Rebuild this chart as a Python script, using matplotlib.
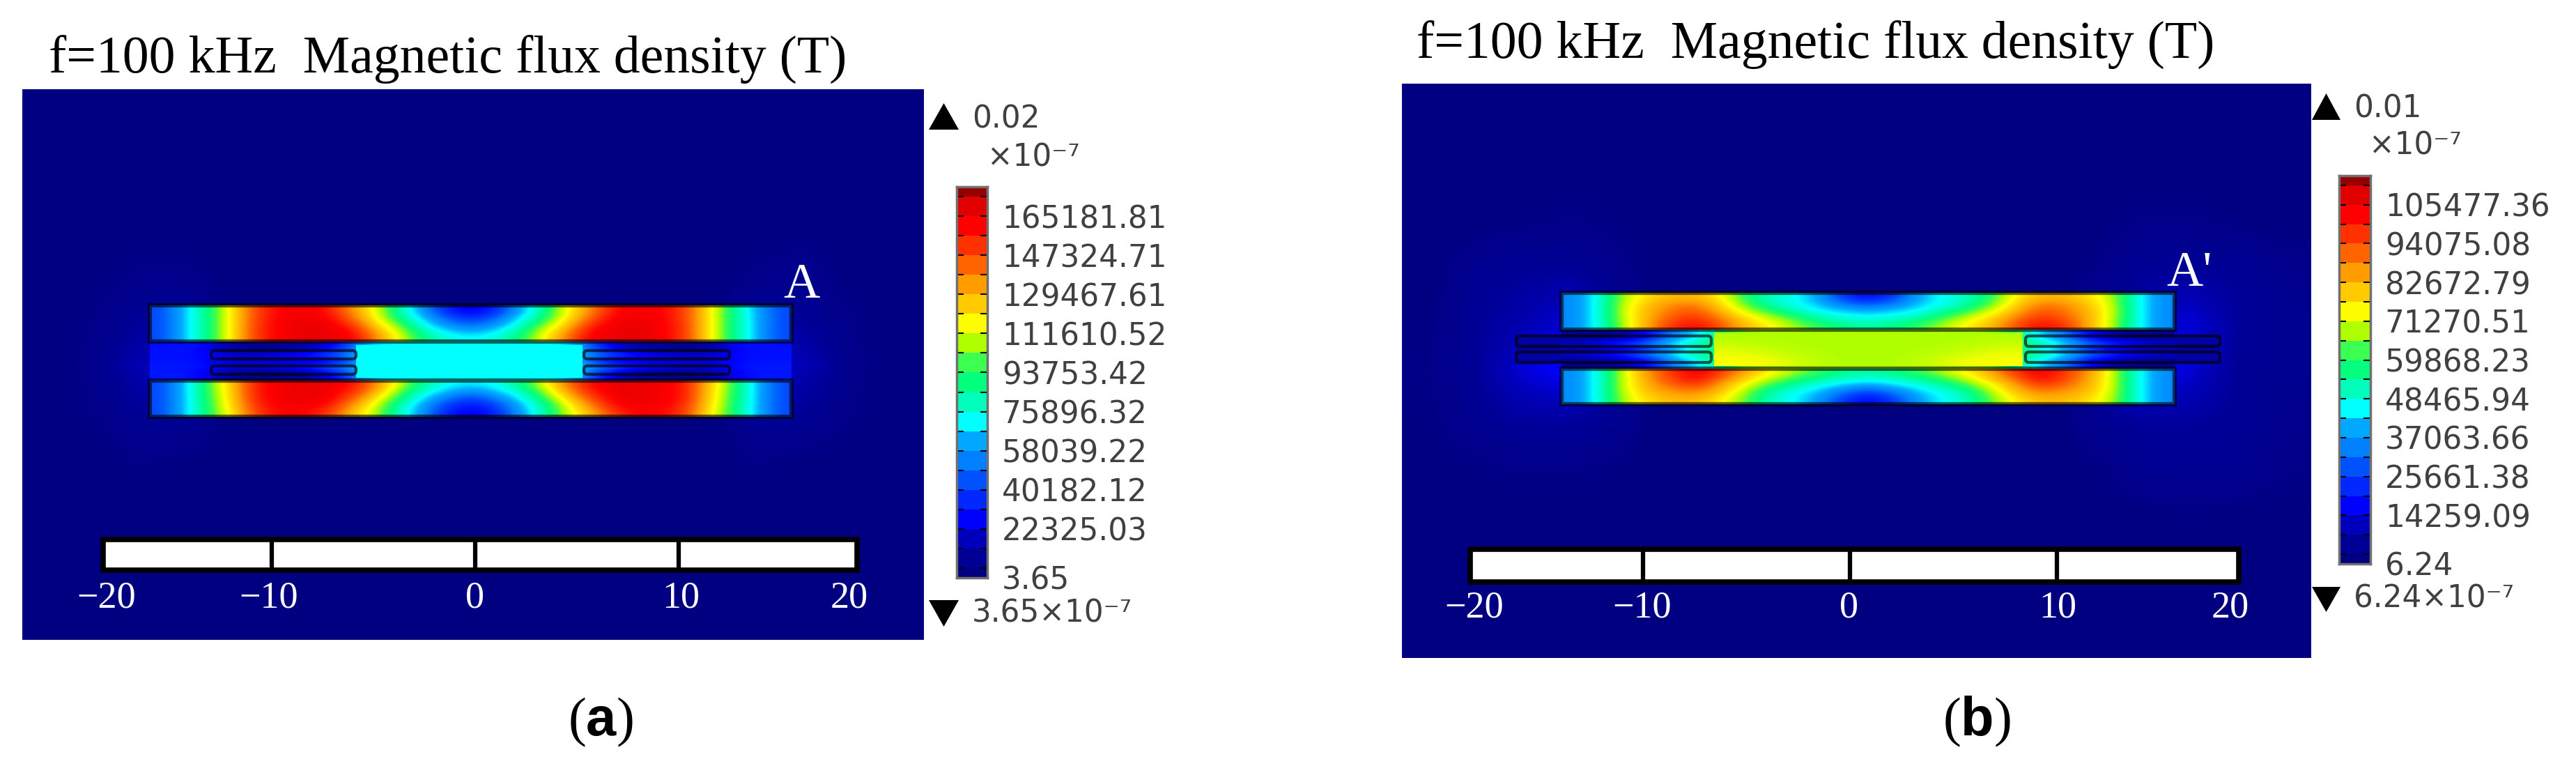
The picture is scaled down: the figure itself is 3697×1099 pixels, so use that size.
import numpy as np
import matplotlib
matplotlib.use('Agg')
import matplotlib.pyplot as plt
from matplotlib.colors import LinearSegmentedColormap
from matplotlib.patches import Rectangle, Polygon, FancyBboxPatch

W = 3697
H = 1099

plt.rcParams['mathtext.rm'] = 'Liberation Serif'
plt.rcParams['mathtext.bf'] = 'Liberation Sans:bold'

# colour scale (one colour per band, bottom to top)
band_colors = ['#000080', '#000096', '#0000be', '#0000ff', '#0028ff', '#0050ff', '#0082ff',
               '#00aaff', '#00ffff', '#00ffbe', '#00ff80', '#3cff50', '#b0ff00', '#ffff00',
               '#ffcd00', '#ffa000', '#ff6400', '#ff3200', '#ff0000', '#e60000', '#960000']
rainbow = LinearSegmentedColormap.from_list('rainbow_fem', band_colors)

title = 'f=100 kHz  Magnetic flux density (T)'
ruler_labels = ['\u221220', '\u221210', '0', '10', '20']

# legend a
ticks_a = [165181.81, 147324.71, 129467.61, 111610.52, 93753.42, 75896.32, 58039.22, 40182.12, 22325.03]
ticks_a_text = ['165181.81', '147324.71', '129467.61', '111610.52', '93753.42', '75896.32', '58039.22',
                '40182.12', '22325.03']
low_a = 3.65
# legend b
ticks_b = [105477.36, 94075.08, 82672.79, 71270.51, 59868.23, 48465.94, 37063.66, 25661.38, 14259.09]
ticks_b_text = ['105477.36', '94075.08', '82672.79', '71270.51', '59868.23', '48465.94', '37063.66',
                '25661.38', '14259.09']
low_b = 6.24

# field values, percent of the colour scale
top_a = [
    [24, 37, 50, 68, 84, 90, 92, 88, 76, 64, 46, 32, 18, 12, 18, 33, 46, 64, 76, 88, 92, 90, 84, 68, 50, 35, 24],
    [24, 37, 50, 68, 84, 91, 93, 91, 80, 66, 50, 37, 27, 20, 27, 38, 50, 66, 80, 91, 93, 91, 84, 68, 50, 36, 24],
    [24, 37, 50, 68, 85, 91, 94, 93, 88, 72, 60, 43, 35, 31, 35, 44, 60, 72, 88, 93, 94, 91, 85, 68, 50, 36, 24],
    [24, 37, 50, 68, 85, 91, 95, 94, 91, 78, 64, 50, 43, 40, 43, 50, 64, 78, 91, 94, 95, 91, 85, 68, 50, 36, 24],
]
bottom_a = [
    [24, 37, 55, 72, 88, 92, 94, 93, 89, 78, 62, 48, 41, 39, 41, 48, 62, 78, 89, 93, 94, 92, 88, 72, 55, 37, 24],
    [24, 37, 54, 71, 88, 92, 95, 92, 85, 72, 55, 41, 34, 27, 34, 41, 55, 72, 85, 92, 95, 92, 88, 71, 54, 37, 24],
    [24, 37, 53, 70, 87, 91, 93, 90, 78, 64, 47, 35, 24, 18, 24, 35, 47, 64, 78, 90, 93, 91, 87, 70, 53, 37, 24],
    [24, 37, 52, 68, 84, 90, 90, 84, 72, 60, 44, 32, 18, 13, 18, 32, 44, 60, 72, 84, 90, 90, 84, 68, 52, 37, 24],
]
gap_a = [
    [16, 18, 7, 4, 7, 13, 40, 40, 40, 40, 40, 40, 40, 13, 7, 4, 7, 18, 16],
    [17, 17, 4, 4, 8, 18, 40, 40, 40, 40, 40, 40, 40, 18, 8, 4, 4, 17, 17],
    [17, 17, 12, 15, 17, 26, 40, 40, 40, 40, 40, 40, 40, 26, 17, 15, 12, 17, 17],
    [17, 17, 8, 8, 9, 13, 40, 40, 40, 40, 40, 40, 40, 13, 9, 8, 8, 17, 17],
    [18, 18, 13, 16, 18, 28, 40, 40, 40, 40, 40, 40, 40, 28, 18, 16, 13, 18, 18],
    [18, 17, 4, 3, 7, 18, 40, 40, 40, 40, 40, 40, 40, 18, 7, 3, 4, 17, 18],
    [18, 17, 4, 3, 5, 13, 40, 40, 40, 40, 40, 40, 40, 13, 5, 3, 4, 17, 18],
]
center_a = [[40, 40], [40, 40]]
far_a = [
    [0, 0, 0, 0, 0, 0, 0, 0, 0, 0, 0, 0, 0, 0, 0, 0, 0, 0, 0],
    [0, 0, 0, 0, 0, 0, 0, 0, 0, 0, 0, 0, 0, 0, 0, 0, 0, 0, 0],
    [0, 0, 0, 0, 0, 0, 0, 0, 0, 0, 0, 0, 0, 0, 0, 0, 0, 0, 0],
    [0, 0, 2, 2, 0, 0, 0, 0, 0, 0, 0, 0, 0, 0, 0, 2, 3, 0, 0],
    [0, 2, 5, 5, 1, 0, 0, 0, 0, 0, 0, 0, 0, 0, 1, 5, 5, 2, 0],
    [0, 3, 9, 14, 4, 0, 0, 0, 0, 0, 0, 0, 0, 0, 4, 14, 9, 3, 0],
    [0, 2, 5, 5, 1, 0, 0, 0, 0, 0, 0, 0, 0, 0, 1, 5, 5, 2, 0],
    [0, 0, 2, 1, 0, 0, 0, 0, 0, 0, 0, 0, 0, 0, 0, 2, 1, 0, 0],
    [0, 0, 0, 0, 0, 0, 0, 0, 0, 0, 0, 0, 0, 0, 0, 0, 0, 0, 0],
    [0, 0, 0, 0, 0, 0, 0, 0, 0, 0, 0, 0, 0, 0, 0, 0, 0, 0, 0],
    [0, 0, 0, 0, 0, 0, 0, 0, 0, 0, 0, 0, 0, 0, 0, 0, 0, 0, 0],
]

top_b = [
    [31, 41, 60, 68, 72, 72, 66, 52, 44, 41, 34, 21, 14, 21, 34, 41, 44, 52, 66, 72, 72, 68, 60, 41, 31],
    [31, 41, 62, 72, 78, 80, 70, 58, 47, 41, 37, 33, 30, 33, 37, 41, 47, 58, 70, 80, 78, 72, 62, 41, 31],
    [31, 41, 62, 73, 80, 84, 76, 67, 60, 52, 44, 41, 40, 41, 44, 52, 60, 67, 76, 84, 80, 73, 62, 41, 31],
    [31, 41, 60, 74, 86, 90, 82, 72, 66, 60, 54, 50, 47, 50, 54, 60, 66, 72, 82, 90, 86, 74, 60, 41, 31],
]
bottom_b = [
    [31, 41, 62, 76, 85, 92, 85, 74, 66, 60, 54, 50, 47, 50, 54, 60, 66, 74, 85, 92, 85, 76, 62, 41, 31],
    [31, 41, 62, 74, 82, 88, 76, 67, 58, 50, 44, 41, 39, 41, 44, 50, 58, 67, 76, 88, 82, 74, 62, 41, 31],
    [31, 41, 62, 72, 76, 78, 72, 60, 47, 41, 37, 30, 24, 30, 37, 41, 47, 60, 72, 78, 76, 72, 62, 41, 31],
    [31, 41, 60, 68, 72, 72, 66, 56, 44, 40, 33, 21, 14, 21, 33, 40, 44, 56, 66, 72, 72, 68, 60, 41, 31],
]
gap_b = [
    [4, 5, 13, 31, 41, 60, 60, 60, 60, 60, 60, 60, 60, 60, 41, 31, 13, 5, 4],
    [4, 5, 12, 33, 42, 60, 60, 60, 60, 60, 60, 60, 60, 60, 42, 33, 12, 5, 4],
    [12, 18, 27, 41, 50, 60, 60, 60, 60, 60, 60, 60, 60, 60, 50, 41, 27, 18, 12],
    [4, 8, 16, 34, 43, 60, 60, 60, 60, 60, 60, 60, 60, 60, 43, 34, 16, 8, 4],
    [12, 18, 27, 41, 50, 60, 60, 60, 60, 60, 60, 60, 60, 60, 50, 41, 27, 18, 12],
    [4, 5, 12, 33, 42, 60, 60, 60, 60, 60, 60, 60, 60, 60, 42, 33, 12, 5, 4],
    [4, 5, 13, 31, 41, 60, 60, 60, 60, 60, 60, 60, 60, 60, 41, 31, 13, 5, 4],
]
center_b = [
    [60, 60, 60, 60, 60, 60, 60, 60, 60],
    [63, 61, 60, 60, 60, 60, 60, 61, 63],
    [65, 65, 62, 60, 60, 60, 62, 65, 65],
]
far_b = [
    [0, 0, 0, 0, 0, 0, 0, 0, 0, 0, 0, 0, 0, 0, 0, 0, 0, 0, 0],
    [0, 0, 0, 0, 0, 0, 0, 0, 0, 0, 0, 0, 0, 0, 0, 0, 0, 0, 0],
    [0, 0, 1, 2, 1, 0, 0, 0, 0, 0, 0, 0, 0, 0, 0, 2, 2, 1, 0],
    [0, 4, 5, 5, 3, 0, 0, 0, 0, 0, 0, 0, 0, 0, 2, 5, 5, 5, 3],
    [1, 5, 8, 12, 5, 0, 0, 0, 0, 0, 0, 0, 0, 0, 5, 8, 12, 6, 4],
    [2, 5, 12, 16, 6, 0, 0, 0, 0, 0, 0, 0, 0, 0, 6, 16, 12, 5, 4],
    [1, 4, 6, 6, 4, 0, 0, 0, 0, 0, 0, 0, 0, 0, 4, 6, 6, 5, 3],
    [0, 1, 2, 2, 1, 0, 0, 0, 0, 0, 0, 0, 0, 0, 1, 4, 4, 4, 2],
    [0, 0, 0, 0, 0, 0, 0, 0, 0, 0, 0, 0, 0, 0, 0, 0, 1, 0, 0],
    [0, 0, 0, 0, 0, 0, 0, 0, 0, 0, 0, 0, 0, 0, 0, 0, 0, 0, 0],
    [0, 0, 0, 0, 0, 0, 0, 0, 0, 0, 0, 0, 0, 0, 0, 0, 0, 0, 0],
]

fig = plt.figure(figsize=(W / 100, H / 100), dpi=100)
ax = fig.add_axes([0, 0, 1, 1])


def field(grid, x0, x1, y0, y1, interp='bicubic'):
    ax.imshow(np.array(grid, dtype=float), extent=(x0, x1, y1, y0), cmap=rainbow, vmin=0, vmax=100,
              aspect='auto', interpolation=interp, interpolation_stage='data')


def outline(x0, x1, y0, y1, lw=4.5):
    ax.add_patch(Rectangle((x0, y0), x1 - x0, y1 - y0, fc='none', ec='black', alpha=0.6, lw=lw))


def coil(x0, x1, y0, y1):
    ax.add_patch(FancyBboxPatch((x0, y0), x1 - x0, y1 - y0, boxstyle='round,pad=0,rounding_size=5',
                                fc='none', ec='black', alpha=0.65, lw=3))


def legend(ticks, text, low, bar, tri_x, top_tri, bot_tri, top_label, mid_label, bot_label):
    x0, x1, y0, y1 = bar
    step = (ticks[0] - ticks[1]) / 2
    edges = [low] + [low + (k + 0.5) * step for k in range(20)] + [low + 20 * step]
    cax = fig.add_axes([x0 / W, 1 - y1 / H, (x1 - x0) / W, (y1 - y0) / H])
    cax.pcolormesh([0, 1], edges, np.arange(21)[:, None] / 20, cmap=rainbow, vmin=0, vmax=1)
    cax.set_xticks([])
    cax.set_yticks(ticks + [low], labels=text + ['%.2f' % low])
    cax.set_yticks(edges[1:-1], minor=True)
    cax.tick_params(which='both', direction='in', left=True, right=True, labelleft=False, labelright=True,
                    length=7, width=1.5, labelsize=31.5, labelcolor='#404040', pad=15)
    for s in cax.spines.values():
        s.set_color('#707070')
        s.set_linewidth(2.5)
    ax.add_patch(Polygon([(tri_x[0], top_tri[1]), (tri_x[1], top_tri[1]), ((tri_x[0] + tri_x[1]) / 2, top_tri[0])],
                         fc='black', ec='none'))
    ax.add_patch(Polygon([(tri_x[0], bot_tri[0]), (tri_x[1], bot_tri[0]), ((tri_x[0] + tri_x[1]) / 2, bot_tri[1])],
                         fc='black', ec='none'))
    for lab in (top_label, mid_label, bot_label):
        ax.text(lab[0], lab[1], lab[2], fontsize=31.5, color='#404040', va='center', ha='left')


def panel(p):
    x0, x1, y0, y1 = p['box']
    field(p['far'], x0, x1, y0, y1, 'bilinear')
    cx0, cx1 = p['core_x']
    gy0, gy1 = p['top_y'][1], p['bot_y'][0]
    field(p['gap'], cx0, cx1, gy0, gy1)
    for extra in p['coil_out']:
        ax.add_patch(Rectangle((extra[0], p['coil_rows'][0][0]), extra[1] - extra[0],
                               p['coil_rows'][1][1] - p['coil_rows'][0][0], fc=rainbow(0.07), ec='none'))
    field(p['top'], cx0, cx1, *p['top_y'])
    field(p['bottom'], cx0, cx1, *p['bot_y'])
    field(p['center'], p['center_x'][0], p['center_x'][1], *p['center_y'])
    outline(cx0, cx1, *p['top_y'])
    outline(cx0, cx1, *p['bot_y'])
    for cols in p['coils']:
        for rows in p['coil_rows']:
            coil(cols[0], cols[1], rows[0], rows[1])
    # ruler
    rx0, rx1, ry0, ry1 = p['ruler']
    ax.add_patch(Rectangle((rx0, ry0), rx1 - rx0, ry1 - ry0, fc='white', ec='black', lw=5.5))
    for d in p['dividers']:
        ax.plot([d, d], [ry0, ry1], color='black', lw=4.5, solid_capstyle='butt')
    for lx, lab in zip(p['ruler_x'], ruler_labels):
        ax.text(lx, p['ruler_base'], lab, color='white', family='Liberation Serif', fontsize=39,
                ha='center', va='baseline')
    ax.text(p['title_xy'][0], p['title_xy'][1], title, family='Liberation Serif', fontsize=p['title_size'],
            ha='left', va='baseline', color='black')
    ax.text(p['mark'][0], p['mark'][1], p['mark'][2], family='Liberation Serif', fontsize=52, color='white',
            ha='left', va='baseline')
    ax.text(p['sub'][0], p['sub'][1], p['sub'][2], family='Liberation Serif', fontsize=56, math_fontfamily='custom',
            ha='center', va='baseline', color='black')


panel(dict(box=(32, 1326, 128, 918), far=far_a, gap=gap_a, top=top_a, bottom=bottom_a, center=center_a,
           core_x=(215, 1136), top_y=(438, 490), bot_y=(546, 598), center_x=(511, 836), center_y=(495, 542),
           coils=[(303, 511), (838, 1047)], coil_rows=[(503, 515), (525, 537)], coil_out=[],
           ruler=(148, 1230, 774, 818), dividers=[390, 682, 974], ruler_x=[153, 386, 682, 977, 1219],
           ruler_base=872, title_xy=(70, 105), title_size=54.5, mark=(1124, 427, 'A'),
           sub=(862, 1055, r'($\mathbf{a}$)')))
panel(dict(box=(2012, 3317, 120, 944), far=far_b, gap=gap_b, top=top_b, bottom=bottom_b, center=center_b,
           core_x=(2241, 3121), top_y=(420, 473), bot_y=(529, 580), center_x=(2460, 2903), center_y=(477, 525),
           coils=[(2176, 2456), (2907, 3186)], coil_rows=[(482, 497), (505, 520)],
           coil_out=[(2176, 2241), (3121, 3186)],
           ruler=(2110, 3213, 788, 835), dividers=[2358, 2655, 2952], ruler_x=[2116, 2357, 2653, 2953, 3201],
           ruler_base=886, title_xy=(2033, 84), title_size=54.5, mark=(3109, 410, "A'"),
           sub=(2837, 1055, r'($\mathbf{b}$)')))

legend(ticks_a, ticks_a_text, low_a, (1373, 1417, 268, 829), (1333, 1376), (148, 186), (861, 899),
       (1395, 171, '0.02'), (1417, 226, '\u00d710\u207b\u2077'), (1395, 880, '3.65\u00d710\u207b\u2077'))
legend(ticks_b, ticks_b_text, low_b, (3357, 3402, 252, 809), (3318, 3359), (134, 172), (842, 878),
       (3378, 156, '0.01'), (3400, 209, '\u00d710\u207b\u2077'), (3378, 859, '6.24\u00d710\u207b\u2077'))

ax.set_xlim(0, W)
ax.set_ylim(H, 0)
ax.axis('off')
fig.savefig('out.png', dpi=100)
plt.close()
